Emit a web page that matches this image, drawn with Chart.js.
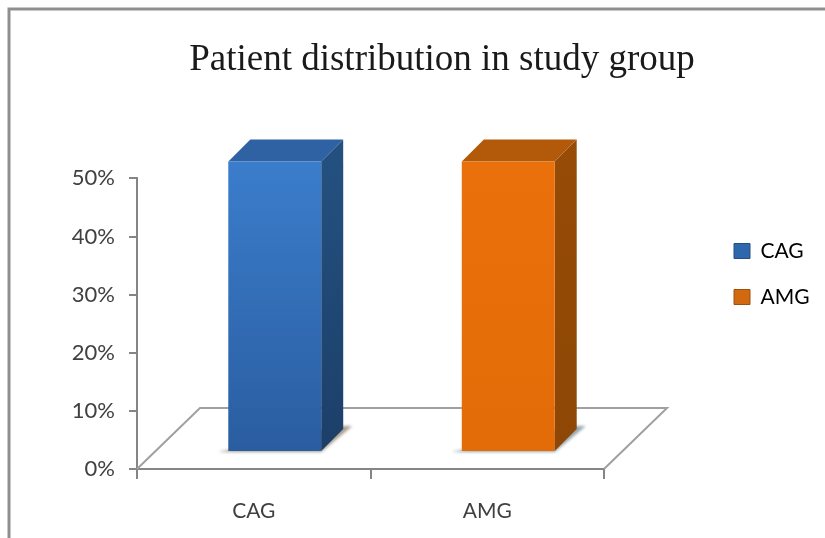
<!DOCTYPE html>
<html>
<head>
<meta charset="utf-8">
<style>
  html, body { margin: 0; padding: 0; background: #fff; }
  #box { width: 825px; height: 538px; }
</style>
</head>
<body>
<div id="box"><canvas id="chart" width="825" height="538"></canvas></div>
<script src="https://cdn.jsdelivr.net/npm/chart.js@4"></script>
<script>
const categories = ['CAG', 'AMG'];
const cagValues = [50, null];
const amgValues = [null, 50];
const yTicks = [0, 10, 20, 30, 40, 50];

const fontName = 'Lato, "Open Sans", sans-serif';
const axisGray = '#858585';
const textGray = '#404040';

// colours of the three faces of each bar
const faces = [
  { top: '#2f62a2', side: '#24507f', sideLow: '#1c3f69', front: '#3b7dcc', frontLow: '#2a5da0', shadow: '#a89c8e' },
  { top: '#b35a0a', side: '#964b06', sideLow: '#8e4706', front: '#e9700a', frontLow: '#e46c08', shadow: '#93a6ad' }
];

function frontGradient(i) {
  return c => {
    const area = c.chart.chartArea;
    if (!area) return faces[i].front;
    const g = c.chart.ctx.createLinearGradient(0, area.top, 0, area.bottom);
    g.addColorStop(0, faces[i].front);
    g.addColorStop(1, faces[i].frontLow);
    return g;
  };
}

function poly(ctx, pts, fill) {
  ctx.beginPath();
  pts.forEach((p, i) => i ? ctx.lineTo(p[0], p[1]) : ctx.moveTo(p[0], p[1]));
  ctx.closePath();
  ctx.fillStyle = fill;
  ctx.fill();
}

// fake 3D: frame, floor, then the side and top of each bar behind the real bars
const shiftX = 21, shiftY = -17, barDepth = 22, floorX = 63, floorY = 61;
const fake3d = {
  id: 'fake3d',
  beforeInit(chart) {
    const fit = chart.legend.fit;
    chart.legend.fit = function () {
      fit.call(this);
      this.width = 221;
    };
  },
  afterLayout(chart) {
    chart.legend.left = 709;
    chart.legend.top += 5;
    chart.legend.bottom += 5;
  },
  beforeDraw(chart) {
    const ctx = chart.ctx;
    ctx.save();
    ctx.strokeStyle = '#8f8f8f';
    ctx.lineWidth = 3;
    ctx.beginPath();
    ctx.moveTo(9, 538);
    ctx.lineTo(9, 9);
    ctx.lineTo(825, 9);
    ctx.stroke();
    ctx.restore();
  },
  beforeDatasetsDraw(chart) {
    const ctx = chart.ctx;
    const x = chart.scales.x, y = chart.scales.y;
    const y0 = y.getPixelForValue(0);
    ctx.save();
    ctx.strokeStyle = '#a0a0a0';
    ctx.lineWidth = 2;
    ctx.beginPath();
    ctx.moveTo(x.left, y0);
    ctx.lineTo(x.left + floorX, y0 - floorY);
    ctx.lineTo(x.right + floorX, y0 - floorY);
    ctx.lineTo(x.right, y0);
    ctx.stroke();
    ctx.translate(shiftX, shiftY);
    chart.data.datasets.forEach((ds, i) => {
      const bar = chart.getDatasetMeta(i).data[i];
      const left = bar.x - bar.width / 2, right = bar.x + bar.width / 2;
      ctx.save();
      ctx.filter = 'blur(1.5px)';
      poly(ctx, [[left - 10, bar.base + 1], [right, bar.base + 1],
        [right + barDepth + 9, bar.base - barDepth - 3], [right + barDepth, bar.base - barDepth - 3]], faces[i].shadow);
      ctx.restore();
      const g = ctx.createLinearGradient(0, bar.y, 0, bar.base);
      g.addColorStop(0, faces[i].side);
      g.addColorStop(1, faces[i].sideLow);
      poly(ctx, [[right, bar.y], [right + barDepth, bar.y - barDepth],
        [right + barDepth, bar.base - barDepth], [right, bar.base]], g);
      poly(ctx, [[left, bar.y], [left + barDepth, bar.y - barDepth],
        [right + barDepth, bar.y - barDepth], [right, bar.y]], faces[i].top);
    });
  },
  afterDatasetsDraw(chart) {
    chart.ctx.restore();
  }
};

new Chart(document.getElementById('chart'), {
  type: 'bar',
  plugins: [fake3d],
  data: {
    labels: categories,
    datasets: [
      { label: 'CAG', data: cagValues, backgroundColor: frontGradient(0), clip: false },
      { label: 'AMG', data: amgValues, backgroundColor: frontGradient(1), clip: false }
    ]
  },
  options: {
    responsive: false,
    animation: false,
    barPercentage: 0.398,
    categoryPercentage: 1,
    layout: { padding: { left: 59, right: 0, top: 0, bottom: 0 } },
    plugins: {
      tooltip: { enabled: false },
      title: {
        display: true,
        text: 'Patient distribution in study group',
        font: { family: '"Liberation Serif", serif', size: 37, weight: 'normal' },
        color: '#1a1a1a',
        padding: { top: 38, bottom: 96 }
      },
      legend: {
        position: 'right',
        labels: {
          generateLabels: () => categories.map((name, i) => ({
            text: name,
            fillStyle: i ? '#d2690f' : '#2f67ad',
            strokeStyle: i ? '#9a5212' : '#24507f',
            lineWidth: 1,
            datasetIndex: i
          })),
          boxWidth: 16,
          boxHeight: 15,
          padding: 25,
          color: textGray,
          font: { family: fontName, size: 21 }
        }
      }
    },
    scales: {
      x: {
        stacked: true,
        afterFit: s => { s.height = 69; },
        border: { color: axisGray, width: 2 },
        grid: { drawOnChartArea: false, color: axisGray, tickLength: 10, lineWidth: 2 },
        ticks: { color: textGray, padding: 20, font: { family: fontName, size: 21 } }
      },
      y: {
        stacked: true,
        min: 0,
        max: 50,
        afterFit: s => { s.width = 78; },
        afterBuildTicks: s => { s.ticks = yTicks.map(v => ({ value: v })); },
        border: { color: axisGray, width: 2 },
        grid: { drawOnChartArea: false, color: axisGray, tickLength: 8, lineWidth: 2 },
        ticks: { color: textGray, padding: 14, font: { family: fontName, size: 22 }, callback: v => v + '%' }
      }
    }
  }
});
</script>
</body>
</html>
